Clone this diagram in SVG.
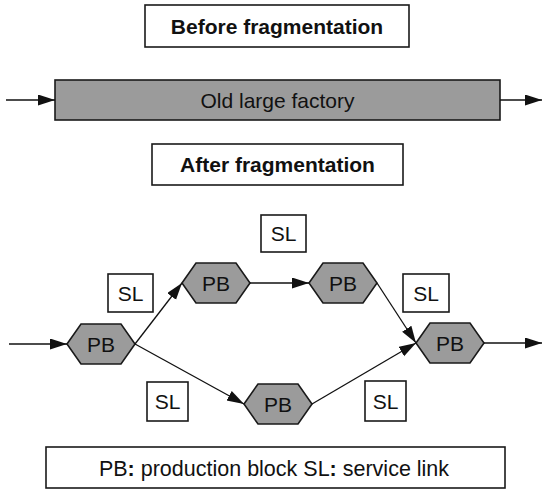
<svg xmlns="http://www.w3.org/2000/svg" width="543" height="489" viewBox="0 0 543 489">
  <style>
    .box { fill: #ffffff; stroke: #1a1a1a; stroke-width: 1.6; }
    .block { fill: #9b9b9b; stroke: #1a1a1a; stroke-width: 1.6; }
    .title { font-family: "Liberation Sans", Arial, sans-serif; font-size: 21px; font-weight: bold; fill: #111; text-anchor: middle; }
    .label { font-family: "Liberation Sans", Arial, sans-serif; font-size: 21px; fill: #111; text-anchor: middle; }
    .edge { stroke: #111; stroke-width: 1.3; fill: none; marker-end: url(#arrow); }
  </style>
  <defs>
    <marker id="arrow" markerUnits="userSpaceOnUse" markerWidth="18" markerHeight="12" refX="17" refY="5.5" orient="auto">
      <path d="M0,0 L17,5.5 L0,11 z" fill="#111"/>
    </marker>
  </defs>

  <rect width="543" height="489" fill="#ffffff"/>

  <!-- headings -->
  <g id="before-title">
    <rect class="box" x="145" y="5" width="264" height="42"/>
    <text class="title" x="277" y="33.5">Before fragmentation</text>
  </g>
  <g id="old-factory">
    <rect class="block" x="55" y="80" width="445" height="40"/>
    <text class="label" x="277.5" y="107.5">Old large factory</text>
  </g>
  <g id="after-title">
    <rect class="box" x="152" y="144" width="251" height="41"/>
    <text class="title" x="277.5" y="172">After fragmentation</text>
  </g>

  <!-- production blocks -->
  <g id="pb-in">
    <polygon class="block" points="67,344 81,324 121,324 135,344 121,364 81,364"/>
    <text class="label" x="101" y="351.5">PB</text>
  </g>
  <g id="pb-top1">
    <polygon class="block" points="182,283 196,263 236,263 250,283 236,303 196,303"/>
    <text class="label" x="216" y="290.5">PB</text>
  </g>
  <g id="pb-top2">
    <polygon class="block" points="309,283 323,263 363,263 377,283 363,303 323,303"/>
    <text class="label" x="343" y="290.5">PB</text>
  </g>
  <g id="pb-bottom">
    <polygon class="block" points="244,404 258,384 298,384 312,404 298,424 258,424"/>
    <text class="label" x="278" y="411.5">PB</text>
  </g>
  <g id="pb-out">
    <polygon class="block" points="416,343 430,323 470,323 484,343 470,363 430,363"/>
    <text class="label" x="450" y="350.5">PB</text>
  </g>

  <!-- service links -->
  <g id="sl-top">
    <rect class="box" x="261" y="215" width="45" height="37"/>
    <text class="label" x="283.5" y="241">SL</text>
  </g>
  <g id="sl-left">
    <rect class="box" x="108" y="274" width="45" height="38"/>
    <text class="label" x="130.5" y="300.5">SL</text>
  </g>
  <g id="sl-right">
    <rect class="box" x="403" y="274" width="46" height="38"/>
    <text class="label" x="426" y="300.5">SL</text>
  </g>
  <g id="sl-bottom-left">
    <rect class="box" x="147" y="382" width="41" height="39"/>
    <text class="label" x="167.5" y="409">SL</text>
  </g>
  <g id="sl-bottom-right">
    <rect class="box" x="365" y="381" width="41" height="40"/>
    <text class="label" x="385.5" y="408.5">SL</text>
  </g>

  <!-- legend -->
  <g id="legend">
    <rect class="box" x="46" y="447" width="459" height="41"/>
    <text class="label" x="274" y="476" style="font-size:21.5px">PB<tspan font-weight="bold">:</tspan> production block SL<tspan font-weight="bold">:</tspan> service link</text>
  </g>

  <!-- connectors -->
  <g id="connectors">
    <line class="edge" x1="6" y1="100" x2="55" y2="100"/>
    <line class="edge" x1="500" y1="100" x2="542" y2="100"/>
    <line class="edge" x1="9" y1="344" x2="67" y2="344"/>
    <line class="edge" x1="135" y1="344" x2="182" y2="283"/>
    <line class="edge" x1="135" y1="344" x2="244" y2="404"/>
    <line class="edge" x1="250" y1="283" x2="309" y2="283"/>
    <line class="edge" x1="377" y1="283" x2="416" y2="343"/>
    <line class="edge" x1="312" y1="404" x2="416" y2="343"/>
    <line class="edge" x1="484" y1="343" x2="542" y2="343"/>
  </g>
</svg>
